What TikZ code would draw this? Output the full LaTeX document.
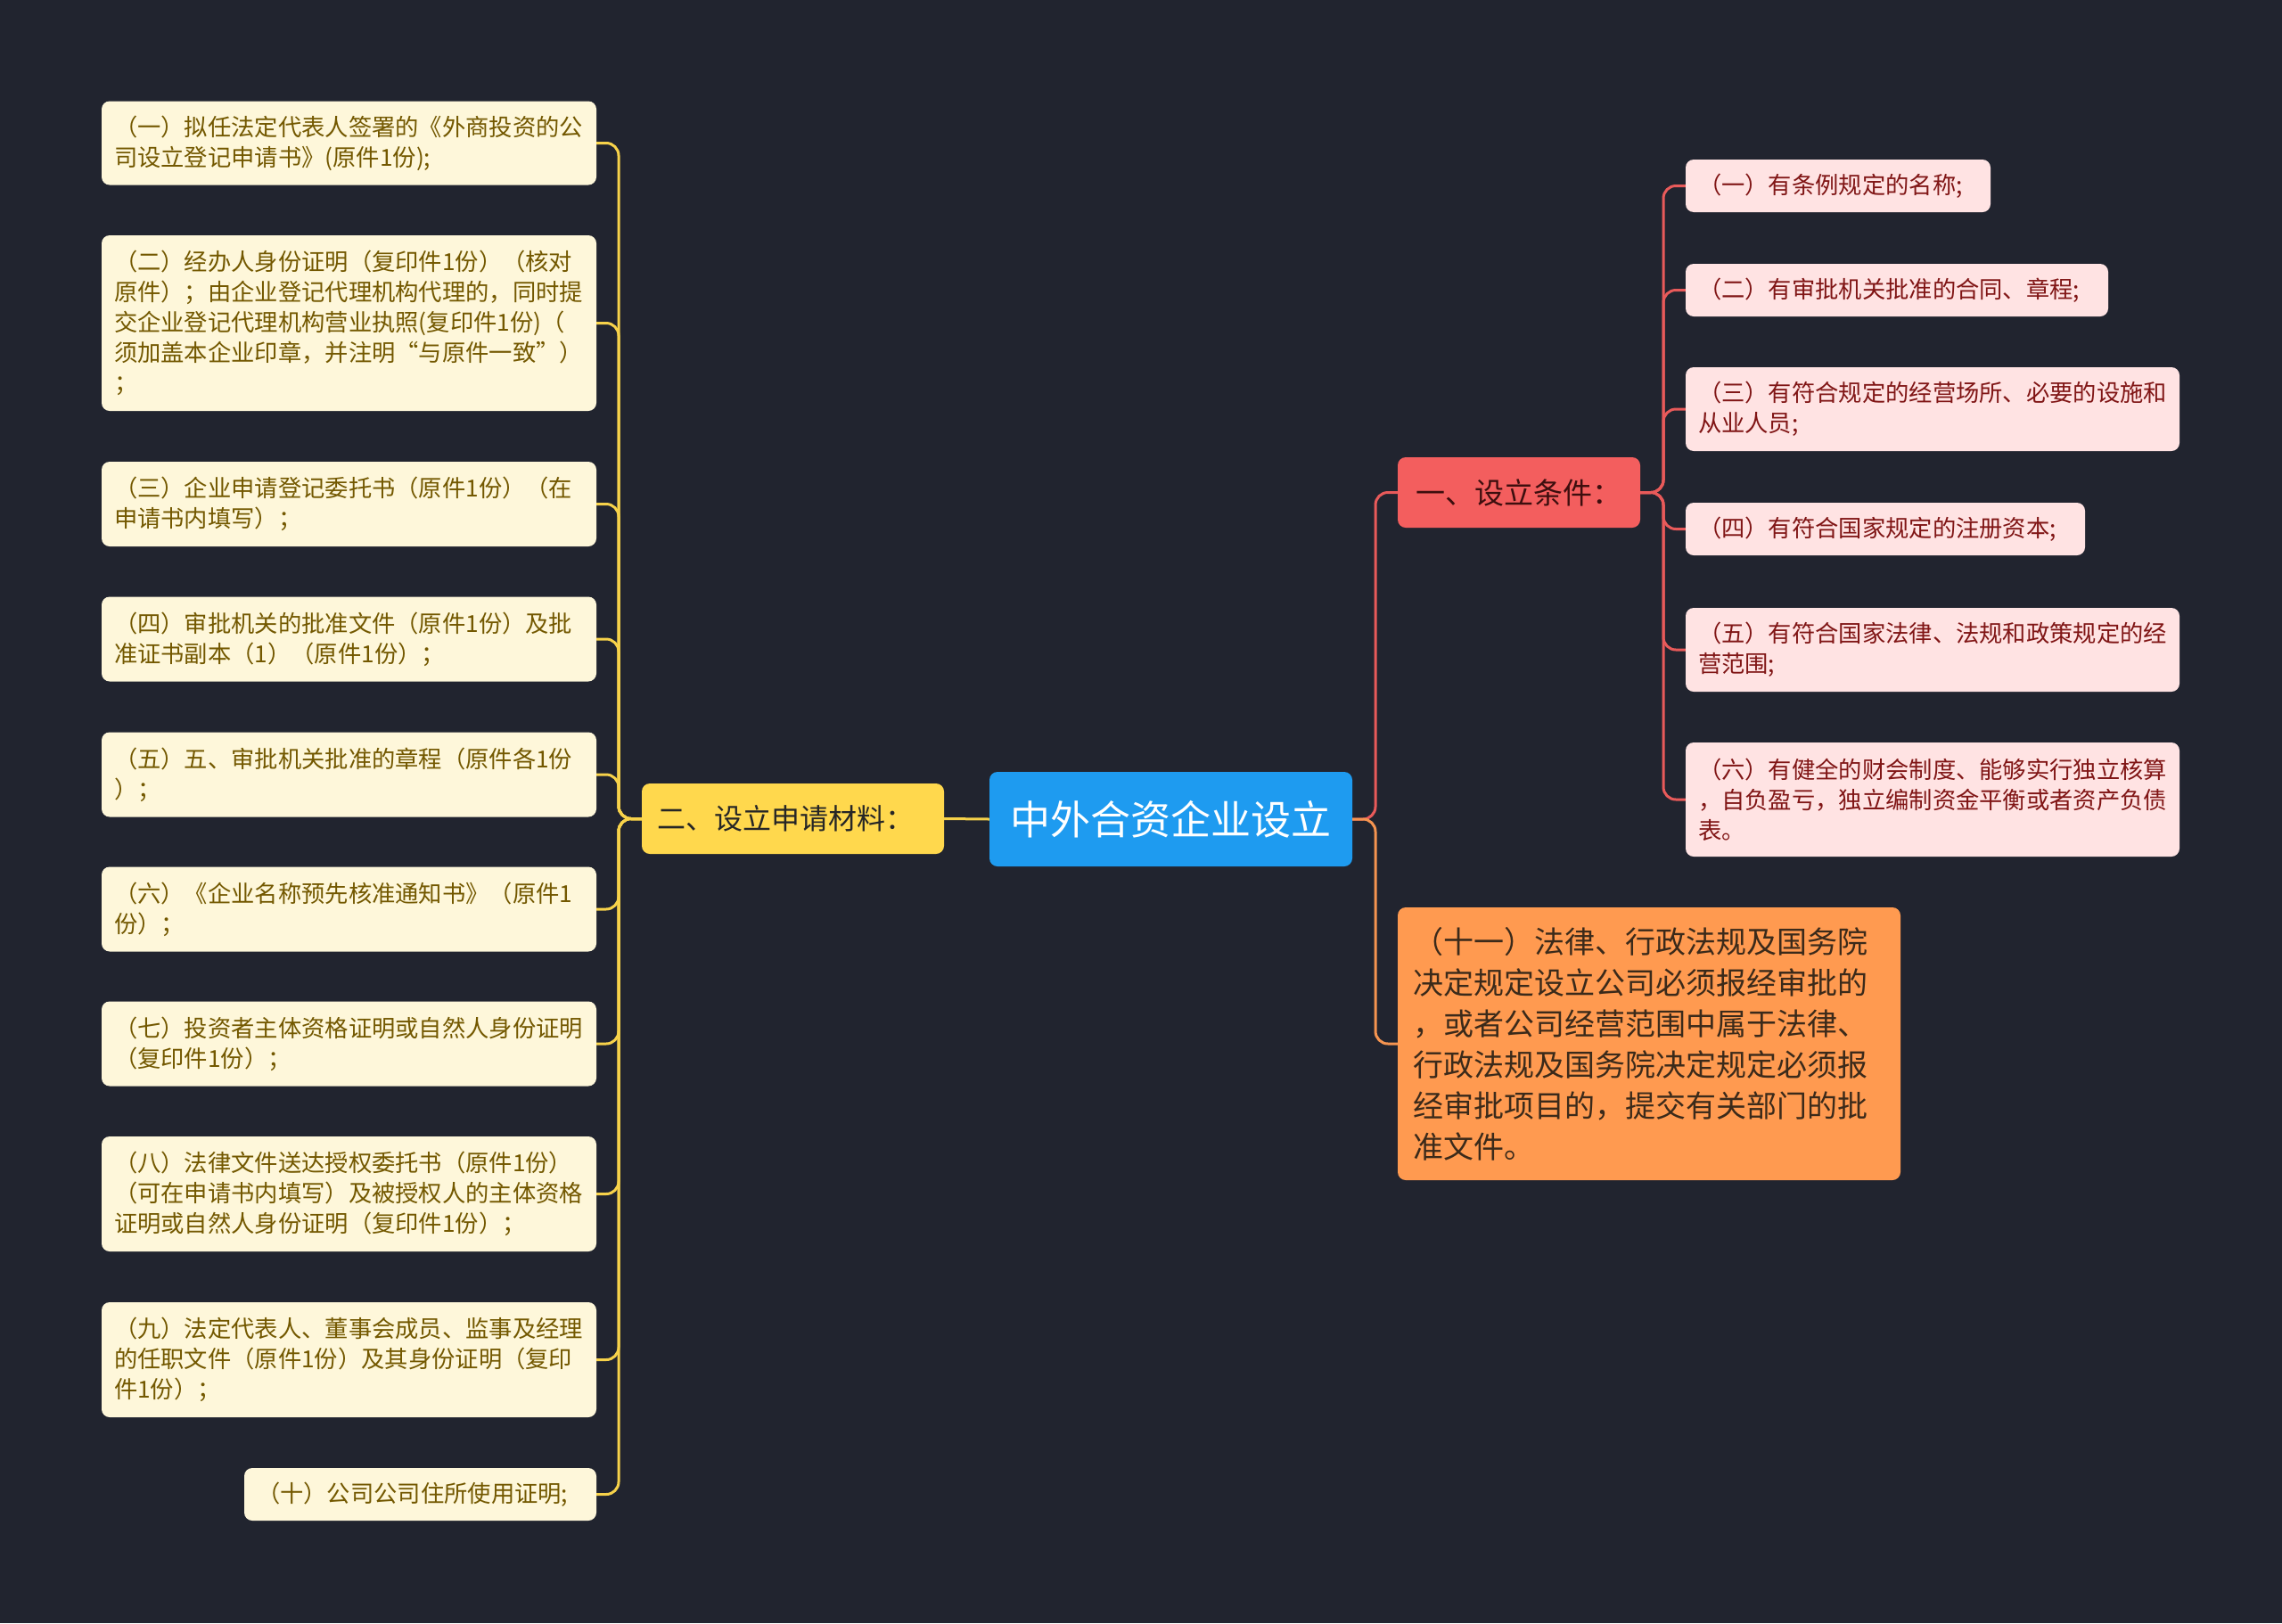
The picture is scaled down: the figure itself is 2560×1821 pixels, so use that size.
\documentclass[tikz,border=0pt]{standalone}
\usepackage{fontspec}
\setmainfont{Noto Sans CJK SC}
\definecolor{bg}{HTML}{21242F}
\definecolor{rootc}{HTML}{1E9BF0}
\definecolor{ylw}{HTML}{FFD84D}
\definecolor{ylwline}{HTML}{F7D24A}
\definecolor{leafL}{HTML}{FEF7DA}
\definecolor{leafLtxt}{HTML}{735800}
\definecolor{redn}{HTML}{F35E5E}
\definecolor{rednt}{HTML}{3D0E0E}
\definecolor{redline}{HTML}{E85A5A}
\definecolor{leafR}{HTML}{FFE3E3}
\definecolor{leafRtxt}{HTML}{801515}
\definecolor{orn}{HTML}{FF9A50}
\definecolor{ornt}{HTML}{3B2A1A}
\definecolor{orline}{HTML}{F59450}
\tikzset{
  box/.style={rectangle, rounded corners=9pt, inner ysep=0pt, anchor=center},
  lleaf/.style={box, fill=leafL, text=leafLtxt, font=\fontsize{26.3}{34}\selectfont, align=left, inner xsep=14pt},
  rleaf/.style={box, fill=leafR, text=leafRtxt, font=\fontsize{26.3}{34}\selectfont, align=left, inner xsep=14pt},
  lconn/.style={draw=ylwline, line width=3pt, rounded corners=14pt},
  rconn/.style={draw=redline, line width=3pt, rounded corners=14pt},
  oconn/.style={draw=orline, line width=3pt, rounded corners=14pt},
}
\begin{document}
\begin{tikzpicture}[x=1pt,y=-1pt]
\fill[bg] (0,0) rectangle (2560,1821);
\useasboundingbox (0,0) rectangle (2560,1821);

% spine coordinates
\coordinate (ls) at (694,918.5);
\coordinate (rs) at (1543,919);
\coordinate (rs2) at (1866,552.5);

% root and branches
\node[box, fill=rootc, text=white, font=\fontsize{45}{54}\selectfont, minimum width=407pt, minimum height=106pt, inner xsep=0pt] (root) at (1313.5,919) {中外合资企业设立};
\node[box, fill=ylw, text=black!85, font=\fontsize{32}{40}\selectfont, text width=305pt, inner xsep=17pt, align=left, minimum height=79pt] (br) at (889.5,918.5) {二、设立申请材料：};
\node[box, fill=redn, text=rednt, font=\fontsize{33}{40}\selectfont, minimum width=272pt, minimum height=79pt] (red) at (1704,552.5) {一、设立条件：};
\node[box, fill=orn, text=ornt, font=\fontsize{34}{46}\selectfont, text width=530pt, inner xsep=17pt, align=left, minimum height=306pt] (or) at (1850,1171) {（十一）法律、行政法规及国务院\\决定规定设立公司必须报经审批的\\，或者公司经营范围中属于法律、\\行政法规及国务院决定规定必须报\\经审批项目的，提交有关部门的批\\准文件。};

% left leaves
\node[lleaf, text width=527pt, minimum height=94pt] (l1) at (391.5,160.5) {（一）拟任法定代表人签署的《外商投资的公\\司设立登记申请书》(原件1份);};
\node[lleaf, text width=527pt, minimum height=197pt] (l2) at (391.5,362.5) {（二）经办人身份证明（复印件1份）（核对\\原件）；由企业登记代理机构代理的，同时提\\交企业登记代理机构营业执照(复印件1份)（\\须加盖本企业印章，并注明“与原件一致”）\\；};
\node[lleaf, text width=527pt, minimum height=95pt] (l3) at (391.5,565.5) {（三）企业申请登记委托书（原件1份）（在\\申请书内填写）；};
\node[lleaf, text width=527pt, minimum height=95pt] (l4) at (391.5,717) {（四）审批机关的批准文件（原件1份）及批\\准证书副本（1）（原件1份）；};
\node[lleaf, text width=527pt, minimum height=95pt] (l5) at (391.5,869) {（五）五、审批机关批准的章程（原件各1份\\）；};
\node[lleaf, text width=527pt, minimum height=95pt] (l6) at (391.5,1020) {（六）《企业名称预先核准通知书》（原件1\\份）；};
\node[lleaf, text width=527pt, minimum height=95pt] (l7) at (391.5,1171) {（七）投资者主体资格证明或自然人身份证明\\（复印件1份）；};
\node[lleaf, text width=527pt, minimum height=129pt] (l8) at (391.5,1339.5) {（八）法律文件送达授权委托书（原件1份）\\（可在申请书内填写）及被授权人的主体资格\\证明或自然人身份证明（复印件1份）；};
\node[lleaf, text width=527pt, minimum height=129pt] (l9) at (391.5,1525.5) {（九）法定代表人、董事会成员、监事及经理\\的任职文件（原件1份）及其身份证明（复印\\件1份）；};
\node[lleaf, text width=367pt, minimum height=59pt] (l10) at (471.5,1676.5) {（十）公司公司住所使用证明;};

% right leaves
\node[rleaf, text width=314pt, minimum height=59pt] (r1) at (2062,208.5) {（一）有条例规定的名称;};
\node[rleaf, text width=446pt, minimum height=59pt] (r2) at (2128,325.5) {（二）有审批机关批准的合同、章程;};
\node[rleaf, text width=526pt, minimum height=94pt] (r3) at (2168,459) {（三）有符合规定的经营场所、必要的设施和\\从业人员;};
\node[rleaf, text width=420pt, minimum height=59pt] (r4) at (2115,593.5) {（四）有符合国家规定的注册资本;};
\node[rleaf, text width=526pt, minimum height=94pt] (r5) at (2168,729) {（五）有符合国家法律、法规和政策规定的经\\营范围;};
\node[rleaf, text width=526pt, minimum height=128pt] (r6) at (2168,897) {（六）有健全的财会制度、能够实行独立核算\\，自负盈亏，独立编制资金平衡或者资产负债\\表。};

% connectors (drawn behind nodes)
\begin{scope}[on background layer/.try]
\end{scope}
\begin{pgfonlayer}{main}
\end{pgfonlayer}

\draw[lconn] (root.west) -- (br.east);
\foreach \n in {l1,l2,l3,l4,l5,l6,l7,l8,l9,l10}{
  \draw[lconn] (br.west) -- (ls) |- (\n.east);
}
\draw[rconn] (root.east) -- (rs) |- (red.west);
\draw[oconn] (root.east) -- (rs) |- (or.west);
\foreach \n in {r1,r2,r3,r4,r5,r6}{
  \draw[rconn] (red.east) -- (rs2) |- (\n.west);
}
\end{tikzpicture}
\end{document}
